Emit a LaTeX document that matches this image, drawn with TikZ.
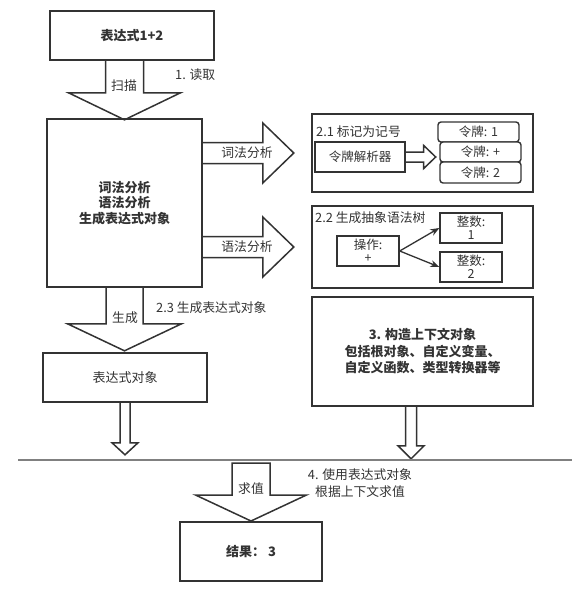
\documentclass[tikz,border=0pt]{standalone}
\usepackage{fontspec}
\setmainfont{Noto Sans CJK SC}
\usetikzlibrary{calc,arrows.meta}
\definecolor{ink}{HTML}{333333}
\tikzset{
  box/.style={draw=ink,line width=1.6pt,fill=white,text=ink,align=center,inner sep=0pt,font=\fontsize{13}{16}\selectfont},
  tok/.style={box,rounded corners=3pt,line width=1.4pt,font=\fontsize{12.5}{14}\selectfont},
  blk/.style={draw=ink,line width=1.5pt,line join=miter},
  lbl/.style={text=ink,inner sep=0pt,font=\fontsize{12.8}{15}\selectfont},
  tree/.style={draw=ink,line width=1.3pt,-{Stealth[length=9pt,width=7pt]}}
}
% downward block arrow: #1 start coordinate name, #2 shaft half width, #3 shaft length, #4 head half width, #5 head length
\newcommand\bdown[5]{%
  \draw[blk] ([xshift=-#2pt]#1) -- ++(0,#3) -- ++({#2-#4},0) -- ++(#4,#5) -- ++(#4,-#5) -- ++({#2-#4},0) -- ++(0,-#3);}
\newcommand\bdownclosed[5]{%
  \draw[blk] ([xshift=-#2pt]#1) -- ++(0,#3) -- ++({#2-#4},0) -- ++(#4,#5) -- ++(#4,-#5) -- ++({#2-#4},0) -- ++(0,-#3) -- cycle;}
% rightward block arrow
\newcommand\bright[5]{%
  \draw[blk] ([yshift=#2pt]#1) -- ++(#3,0) -- ++(0,{#2-#4}) -- ++(#5,#4) -- ++(-#5,#4) -- ++(0,{#2-#4}) -- ++(-#3,0);}
\begin{document}
\begin{tikzpicture}[x=1pt,y=-1pt]
\useasboundingbox (0,0) rectangle (586,602);
% boxes
\node[box,minimum width=164,minimum height=49,font=\fontsize{13}{16}\selectfont\bfseries] (top) at (132,35.5) {表达式1+2};
\node[box,minimum width=155,minimum height=168,font=\fontsize{13}{15.5}\selectfont\bfseries] (main) at (124.5,203) {词法分析\\语法分析\\生成表达式对象};
\node[box,minimum width=164,minimum height=49] (obj) at (125,377.5) {表达式对象};
\node[box,minimum width=142,minimum height=59,font=\fontsize{13}{16}\selectfont\bfseries] (res) at (251,551.5) {结果： 3};
\node[box,minimum width=221,minimum height=78] (b21) at (422.5,153) {};
\node[box,minimum width=221,minimum height=82] (b22) at (422.5,247) {};
\node[box,minimum width=221,minimum height=109,font=\fontsize{13}{16.5}\selectfont\bfseries] (b3) at (422.5,351.5) {3. 构造上下文对象\\包括根对象、自定义变量、\\自定义函数、类型转换器等};
% inside 2.1
\node[lbl,anchor=west] (l21) at (316,132) {2.1 标记为记号};
\node[box,line width=1.4pt,minimum width=90,minimum height=30,font=\fontsize{12.5}{14}\selectfont] (parser) at (360,157) {令牌解析器};
\node[tok,minimum width=81,minimum height=20] (t1) at (478.5,132) {令牌: 1};
\node[tok,minimum width=81,minimum height=20] (tp) at (480.5,152) {令牌: +};
\node[tok,minimum width=81,minimum height=21] (t2) at (480.5,172.5) {令牌: 2};
% inside 2.2
\node[lbl,anchor=west] (l22) at (315,218) {2.2 生成抽象语法树};
\node[box,line width=1.4pt,minimum width=62,minimum height=30,font=\fontsize{12.5}{13}\selectfont] (op) at (368,251) {操作:\\+};
\node[box,line width=1.4pt,minimum width=62,minimum height=30,font=\fontsize{12.5}{13}\selectfont] (i1) at (471,228) {整数:\\1};
\node[box,line width=1.4pt,minimum width=62,minimum height=30,font=\fontsize{12.5}{13}\selectfont] (i2) at (471,267) {整数:\\2};
\draw[tree] (op.east) -- (i1.west);
\draw[tree] (op.east) -- (i2.west);
% anchor points for block arrows
\coordinate (a1) at (main.north |- top.south);
\coordinate (a23) at (main.south);
\coordinate (aobj) at (obj.south);
\coordinate (ab3) at ([xshift=-11.5pt]b3.south);
\coordinate (a4) at (251,463);
\coordinate (ar1) at (main.east |- b21.west);
\coordinate (ar2) at (main.east |- b22.west);
\coordinate (ap) at (parser.east);
% block arrows
\bdown{a1}{19}{32}{56}{27}
\bdown{a23}{18.5}{36}{57}{27}
\bdown{aobj}{5}{40}{13}{12}
\bdown{ab3}{5.5}{39}{13}{13}
\bdownclosed{a4}{19}{32}{55.5}{26}
\bright{ar1}{10.5}{60}{30}{31}
\bright{ar2}{10.5}{60}{30}{31}
\bright{ap}{5}{18}{11.5}{12}
% separator
\coordinate (sepL) at (18,460);
\coordinate (sepR) at (572,460);
\draw[draw=black!50,line width=1.6pt] (sepL) -- (sepR);
% labels
\node[lbl] (s1) at (124,86) {扫描};
\node[lbl,anchor=west] (r1) at (175,75) {1. 读取};
\node[lbl] (s23) at (125,318) {生成};
\node[lbl,anchor=west] (r23) at (156,308) {2.3 生成表达式对象};
\node[lbl] (cf) at (247,153) {词法分析};
\node[lbl] (yf) at (247,247) {语法分析};
\node[lbl] (qz) at (251,489) {求值};
\node[lbl,align=center,font=\fontsize{12.8}{17}\selectfont] (r4) at (360,483.5) {4. 使用表达式对象\\根据上下文求值};
\end{tikzpicture}
\end{document}
